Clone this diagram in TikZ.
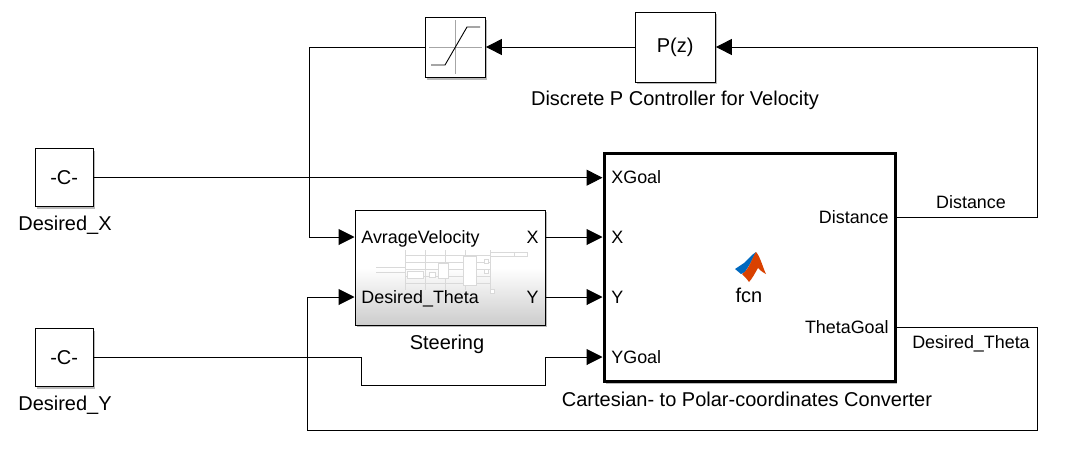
\documentclass[tikz,border=0pt]{standalone}
\usepackage{fontspec}
\setmainfont{Liberation Sans}
\usetikzlibrary{arrows.meta}
\usetikzlibrary{shadows}
\usetikzlibrary{calc}
\usetikzlibrary{positioning}

\begin{document}
\begin{tikzpicture}[x=0.5pt,y=-0.5pt,font=\fontsize{10pt}{12pt}\selectfont]
	\tikzstyle{block}=[draw, line width=0.7pt, fill=white, inner sep=0pt, anchor=north west, drop shadow={shadow xshift=1pt, shadow yshift=-1pt, fill=black!45, opacity=0.6}]
	\tikzstyle{sig}=[-{Triangle[length=8pt,width=8pt]}, line width=0.5pt]
	\tikzstyle{port}=[inner sep=0pt, text height=7.5pt, text depth=1.5pt, font=\fontsize{8.95pt}{11pt}\selectfont]
	\tikzstyle{mini}=[draw=black!15, line width=0.15pt]
	\useasboundingbox (0,0) rectangle (1071,461);

	% blocks
	\node[block, minimum width=29pt, minimum height=29pt] (constX) at (34.5,148) {-C-};
	\node[block, minimum width=29pt, minimum height=29pt] (constY) at (34.5,328) {-C-};
	\node[block, minimum width=95pt, minimum height=57.5pt, top color=white, bottom color=black!20, middle color=white] (steer) at (354.5,209.5) {};
	\node[block, line width=1.5pt, minimum width=145.5pt, minimum height=114pt] (fcn) at (602.5,152) {};
	\node[block, minimum width=40pt, minimum height=35pt] (pz) at (634.5,11.5) {P(z)};
	\node[block, minimum width=30pt, minimum height=30pt] (sat) at (424.5,17) {};

	% labels
	\node (lblX) at (65,225) {Desired\_X};
	\node (lblY) at (65,405) {Desired\_Y};
	\node (lblSteer) at (447,344) {Steering};
	\node (lblFcn) at (747,399) {Cartesian- to Polar-coordinates Converter};
	\node (lblPz) at (675,100) {Discrete P Controller for Velocity};
	\node[port] (lblDist) at (971,202) {Distance};
	\node[port] (lblTheta) at (971,342) {Desired\_Theta};

	% ports
	\node[port, anchor=west] (pVel) at (361,237) {AvrageVelocity};
	\node[port, anchor=west] (pTheta) at (361,297) {Desired\_Theta};
	\node[port, anchor=east] (pX) at (539,237) {X};
	\node[port, anchor=east] (pY) at (539,297) {Y};
	\node[port, anchor=west] (inXG) at (611,177) {XGoal};
	\node[port, anchor=west] (inX) at (611,237) {X};
	\node[port, anchor=west] (inY) at (611,297) {Y};
	\node[port, anchor=west] (inYG) at (611,357) {YGoal};
	\node[port, anchor=east] (outD) at (889,217) {Distance};
	\node[port, anchor=east] (outT) at (889,327) {ThetaGoal};
	\node (fcnName) at (749,295) {fcn};

	% saturation icon
	\draw[black!35, line width=0.3pt] (429,47) -- (482,47) (455,20) -- (455,74);
	\draw[line width=0.45pt] (431,65) -- (445,65) -- (467,27) -- (480,27);

	% steering thumbnail
	\foreach \yy in {255,262,269,276,283}{
		\draw[mini] (405,\yy) -- (490,\yy);
	}
	\foreach \xx in {405,425,445,465,490}{
		\draw[mini] (\xx,250) -- (\xx,290);
	}
	\foreach \xx/\yy/\ww/\hh in {407/271/16/7,429/272/6/5,438/263/10/15,463/256/13/29,484/259/4/4,484/269/4/4,490/289/4/4,514/252/13/4}{
		\draw[mini, fill=white] (\xx,\yy) rectangle ++(\ww,\hh);
	}
	\draw[mini] (376,267) -- (405,267) (376,272) -- (405,272) (490,252) -- (514,252) (490,256) -- (514,256);

	% logo
	\fill[blue!45!cyan!75!black] (735,269) -- (744,263) -- (752,255) -- (756,252) -- (750,264) -- (745,272) -- (741,274) -- cycle;
	\fill[orange!60!red!85!black] (756,252) .. controls (760,256) and (763,268) .. (766,274) .. controls (762,272) and (760,270) .. (758,268) .. controls (755,273) and (752,279) .. (749,282) .. controls (747,279) and (744,276) .. (742,274) .. controls (749,270) and (752,258) .. (756,252) -- cycle;

	% connectors
	\coordinate (cornerD) at (1037,217);
	\coordinate (cornerP) at (1037,47);
	\coordinate (cornerT) at (1037,327);
	\coordinate (cornerB) at (1037,430);
	\coordinate (cornerL) at (307,430);
	\coordinate (cornerS) at (309,47);
	\coordinate (cornerV) at (309,237);
	\coordinate (cornerU) at (307,297);
	\coordinate (stepA) at (361,357);
	\coordinate (stepB) at (361,385);
	\coordinate (stepC) at (545,385);
	\coordinate (stepD) at (545,357);

	\draw[sig] (constX.east) -- (fcn.west |- constX.east);
	\draw[sig] (steer.east |- pX) -- (fcn.west |- pX);
	\draw[sig] (steer.east |- pY) -- (fcn.west |- pY);
	\draw[sig] (constY.east |- stepA) -- (stepA) -- (stepB) -- (stepC) -- (stepD) -- (fcn.west |- stepD);
	\draw[sig] (fcn.east |- cornerD) -- (cornerD) -- (cornerP) -- (pz.east |- cornerP);
	\draw[sig] (pz.west |- cornerP) -- (sat.east |- cornerP);
	\draw[sig] (sat.west |- cornerP) -- (cornerS) -- (cornerV) -- (steer.west |- cornerV);
	\draw[sig] (fcn.east |- cornerT) -- (cornerT) -- (cornerB) -- (cornerL) -- (cornerU) -- (steer.west |- cornerU);
\end{tikzpicture}
\end{document}
